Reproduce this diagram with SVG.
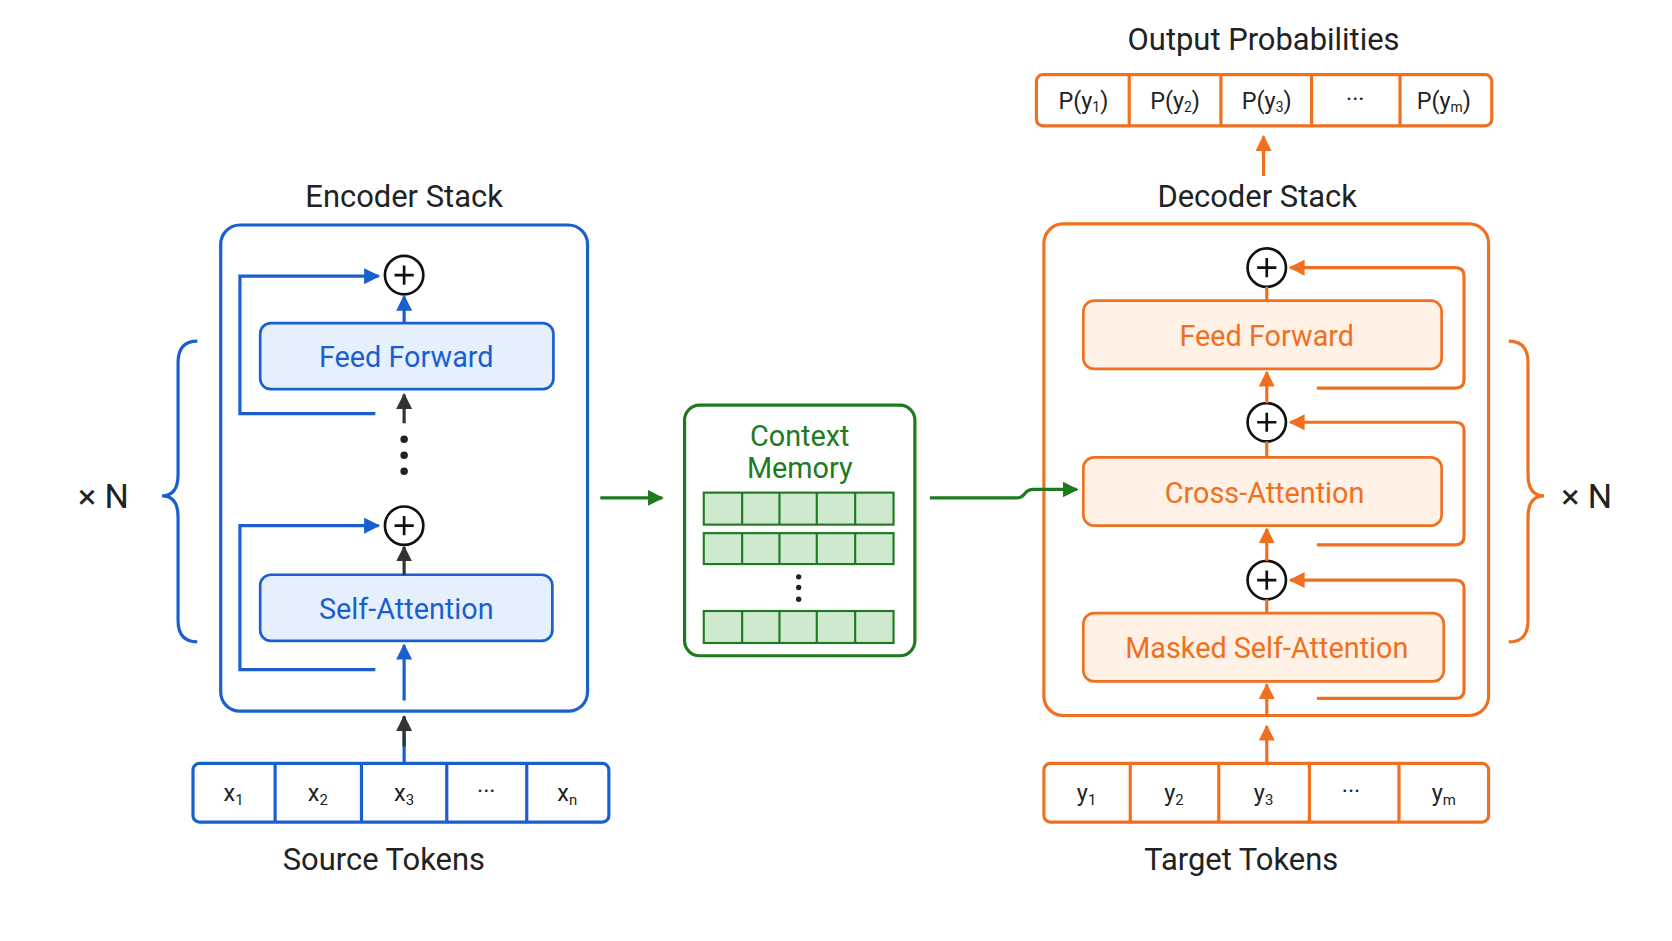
<svg xmlns="http://www.w3.org/2000/svg" width="1672" height="941" viewBox="0 0 1672 941">
<defs>
<style>
text{font-family:"Liberation Sans Narrow","Roboto","DejaVu Sans",sans-serif;text-anchor:middle;dominant-baseline:central}
.t{font-size:29px;fill:#222}
.bl{stroke:#1a5fd0;fill:none;stroke-width:3}
.or{stroke:#f07020;fill:none;stroke-width:3}
.dk{stroke:#333;fill:none;stroke-width:3}
.gr{stroke:#1e7a1e;fill:none;stroke-width:3}
.circ{fill:#fff;stroke:#111;stroke-width:2.5}
.tok{font-size:22px;fill:#222}
</style>
<marker id="ab" viewBox="0 0 10 10" refX="9" refY="5" markerWidth="5" markerHeight="5" orient="auto"><path d="M0,0L10,5L0,10z" fill="#1a5fd0"/></marker>
<marker id="ao" viewBox="0 0 10 10" refX="9" refY="5" markerWidth="5" markerHeight="5" orient="auto"><path d="M0,0L10,5L0,10z" fill="#f07020"/></marker>
<marker id="ad" viewBox="0 0 10 10" refX="9" refY="5" markerWidth="5" markerHeight="5" orient="auto"><path d="M0,0L10,5L0,10z" fill="#333"/></marker>
<marker id="ag" viewBox="0 0 10 10" refX="9" refY="5" markerWidth="5" markerHeight="5" orient="auto"><path d="M0,0L10,5L0,10z" fill="#1e7a1e"/></marker>
</defs>
<rect width="1672" height="941" fill="#fff"/>
<g transform="scale(1.0663)">
<g id="encoder">
<text x="379" y="184" class="t">Encoder Stack</text>
<rect x="207" y="211" width="344" height="456" rx="18" fill="#f7faff" class="bl"/>
<rect x="244" y="303" width="275" height="62" rx="10" fill="#e6f0fc" stroke="#1a5fd0" stroke-width="2.5"/>
<text x="381" y="335" font-size="27" fill="#1a5fd0">Feed Forward</text>
<rect x="244" y="539" width="274" height="62" rx="10" fill="#e6f0fc" stroke="#1a5fd0" stroke-width="2.5"/>
<text x="381" y="571" font-size="27" fill="#1a5fd0">Self-Attention</text>
<circle cx="379" cy="258" r="18" class="circ"/><path d="M370,258h18M379,249v18" stroke="#111" stroke-width="2.5"/>
<circle cx="379" cy="493" r="18" class="circ"/><path d="M370,493h18M379,484v18" stroke="#111" stroke-width="2.5"/>
<circle cx="379" cy="412" r="3.5" fill="#222"/><circle cx="379" cy="427" r="3.5" fill="#222"/><circle cx="379" cy="442" r="3.5" fill="#222"/>
</g>
<g id="source">
<rect x="181" y="716" width="390" height="55" rx="6" fill="#eef4fd" class="bl"/>
<path d="M258,716v55M339,716v55M419,716v55M494,716v55" class="bl" stroke-width="2"/>
<text x="219" y="744" class="tok">x<tspan font-size="14" dy="6">1</tspan></text>
<text x="298" y="744" class="tok">x<tspan font-size="14" dy="6">2</tspan></text>
<text x="379" y="744" class="tok">x<tspan font-size="14" dy="6">3</tspan></text>
<text x="456" y="742" class="tok">···</text>
<text x="532" y="744" class="tok">x<tspan font-size="14" dy="6">n</tspan></text>
<text x="360" y="806" class="t">Source Tokens</text>
</g>
<g id="brace-left">
<path d="M185,320q-18,0 -18,20v105q0,20 -15,20q15,0 15,20v97q0,20 18,20" class="bl"/>
<text x="97" y="465" font-size="32" fill="#222">× N</text>
</g>
<g id="memory">
<rect x="642" y="380" width="216" height="235" rx="14" fill="#eef8ee" class="gr" stroke-width="2.5"/>
<text x="750" y="409" font-size="27" fill="#1e7a1e">Context</text>
<text x="750" y="439" font-size="27" fill="#1e7a1e">Memory</text>
<g fill="#cfe9cf" stroke="#1e7a1e" stroke-width="2">
<rect x="660" y="462" width="178" height="30"/><rect x="660" y="500" width="178" height="29"/><rect x="660" y="573" width="178" height="30"/>
<path d="M696,462v30M731,462v30M766,462v30M802,462v30M696,500v29M731,500v29M766,500v29M802,500v29M696,573v30M731,573v30M766,573v30M802,573v30"/>
</g>
<circle cx="749" cy="541" r="2.5" fill="#222"/><circle cx="749" cy="551" r="2.5" fill="#222"/><circle cx="749" cy="562" r="2.5" fill="#222"/>
</g>
<g id="decoder">
<text x="1179" y="184" class="t">Decoder Stack</text>
<rect x="979" y="210" width="417" height="461" rx="18" fill="#fff8f3" class="or"/>
<g fill="#fff1e6" stroke="#f07020" stroke-width="2.5">
<rect x="1016" y="282" width="336" height="64" rx="10"/>
<rect x="1016" y="429" width="336" height="64" rx="10"/>
<rect x="1016" y="575" width="338" height="64" rx="10"/>
</g>
<text x="1188" y="315" font-size="27" fill="#f07020">Feed Forward</text>
<text x="1186" y="462" font-size="27" fill="#f07020">Cross-Attention</text>
<text x="1188" y="608" font-size="27" fill="#f07020">Masked Self-Attention</text>
<circle cx="1188" cy="251" r="18" class="circ"/><path d="M1179,251h18M1188,242v18" stroke="#111" stroke-width="2.5"/>
<circle cx="1188" cy="396" r="18" class="circ"/><path d="M1179,396h18M1188,387v18" stroke="#111" stroke-width="2.5"/>
<circle cx="1188" cy="544" r="18" class="circ"/><path d="M1179,544h18M1188,535v18" stroke="#111" stroke-width="2.5"/>
</g>
<g id="target">
<rect x="979" y="716" width="417" height="55" rx="6" fill="#fff8f3" class="or"/>
<path d="M1060,716v55M1143,716v55M1228,716v55M1312,716v55" class="or" stroke-width="2"/>
<text x="1019" y="744" class="tok">y<tspan font-size="14" dy="6">1</tspan></text>
<text x="1101" y="744" class="tok">y<tspan font-size="14" dy="6">2</tspan></text>
<text x="1185" y="744" class="tok">y<tspan font-size="14" dy="6">3</tspan></text>
<text x="1267" y="742" class="tok">···</text>
<text x="1354" y="744" class="tok">y<tspan font-size="14" dy="6">m</tspan></text>
<text x="1164" y="806" class="t">Target Tokens</text>
</g>
<g id="output">
<text x="1185" y="37" class="t">Output Probabilities</text>
<rect x="972" y="70" width="427" height="48" rx="6" fill="#fff8f3" class="or"/>
<path d="M1059,70v48M1145,70v48M1230,70v48M1313,70v48" class="or" stroke-width="2"/>
<text x="1016" y="95" class="tok">P(y<tspan font-size="13" dy="5">1</tspan><tspan dy="-5">)</tspan></text>
<text x="1102" y="95" class="tok">P(y<tspan font-size="13" dy="5">2</tspan><tspan dy="-5">)</tspan></text>
<text x="1188" y="95" class="tok">P(y<tspan font-size="13" dy="5">3</tspan><tspan dy="-5">)</tspan></text>
<text x="1271" y="93" class="tok">···</text>
<text x="1354" y="95" class="tok">P(y<tspan font-size="13" dy="5">m</tspan><tspan dy="-5">)</tspan></text>
</g>
<g id="brace-right">
<path d="M1415,320q18,0 18,20v105q0,20 15,20q-15,0 -15,20v97q0,20 -18,20" class="or"/>
<text x="1488" y="465" font-size="32" fill="#222">× N</text>
</g>
<g id="connectors">
<path d="M352,388H225V259H355" class="bl" marker-end="url(#ab)"/>
<path d="M352,628H225V493H355" class="bl" marker-end="url(#ab)"/>
<path d="M379,303V278" class="bl" marker-end="url(#ab)"/>
<path d="M379,397V370" class="dk" marker-end="url(#ad)"/>
<path d="M379,539V513" class="dk" marker-end="url(#ad)"/>
<path d="M379,657V605" class="bl" marker-end="url(#ab)"/>
<path d="M379,716V672" class="bl"/><path d="M379,700V672" class="dk" marker-end="url(#ad)"/>
<path d="M563,467H621" class="gr" marker-end="url(#ag)"/>
<path d="M872,467H953q5,0 8,-4q3,-4 8,-4H1010" class="gr" marker-end="url(#ag)"/>
<path d="M1235,364H1365q8,0 8,-8V259q0,-8 -8,-8H1210" class="or" marker-end="url(#ao)"/>
<path d="M1235,511H1365q8,0 8,-8V404q0,-8 -8,-8H1210" class="or" marker-end="url(#ao)"/>
<path d="M1235,655H1365q8,0 8,-8V552q0,-8 -8,-8H1210" class="or" marker-end="url(#ao)"/>
<path d="M1188,282V269" class="or"/>
<path d="M1188,378V349" class="or" marker-end="url(#ao)"/>
<path d="M1188,429V414" class="or"/>
<path d="M1188,526V496" class="or" marker-end="url(#ao)"/>
<path d="M1188,575V562" class="or"/>
<path d="M1188,671V642" class="or" marker-end="url(#ao)"/>
<path d="M1188,716V681" class="or" marker-end="url(#ao)"/>
<path d="M1185,165V128" class="or" marker-end="url(#ao)"/>
</g>
</g>
</svg>
